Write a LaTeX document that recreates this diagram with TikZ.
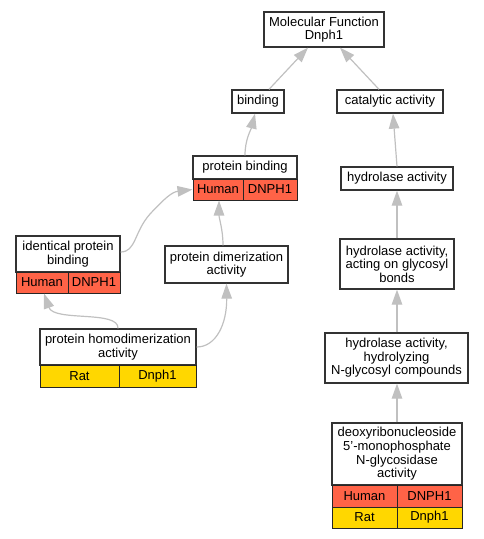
\documentclass[tikz,border=0pt]{standalone}
\usepackage{fontspec}
\setmainfont{Liberation Sans}
\usetikzlibrary{arrows.meta}
\definecolor{hred}{HTML}{FF6347}
\definecolor{ryel}{HTML}{FFD700}
\definecolor{edgec}{HTML}{C0C0C0}
\tikzset{
  box/.style={draw=black!80, line width=1.3pt, fill=white, inner sep=0pt, align=center,
    font=\fontsize{13}{13.6}\selectfont},
  cell/.style={draw=black!85, line width=1pt, inner sep=0pt, align=center,
    font=\fontsize{13}{13.6}\selectfont},
  redcell/.style={cell, fill=hred},
  yelcell/.style={cell, fill=ryel},
  conn/.style={draw=edgec, line width=1.2pt, -{Triangle[length=15pt,width=10.5pt]}}
}
\begin{document}
\begin{tikzpicture}[x=1pt,y=-1pt]
\useasboundingbox (0,0) rectangle (483,539);
% top nodes
\node[box, minimum width=120pt, minimum height=35pt] (mf) at (324,29.5) {Molecular Function\\Dnph1};
\node[box, minimum width=52pt, minimum height=23pt] (bind) at (258,101.5) {binding};
\node[box, minimum width=106pt, minimum height=23pt] (cat) at (390,101.5) {catalytic activity};
% protein binding
\node[box, minimum width=104pt, minimum height=23pt] (pbt) at (245,167.5) {protein binding};
\node[redcell, minimum width=50pt, minimum height=21pt] (pbh) at (218,189.5) {Human};
\node[redcell, minimum width=54pt, minimum height=21pt] (pbg) at (270,189.5) {DNPH1};
% hydrolase activity
\node[box, minimum width=112pt, minimum height=23pt] (hyd) at (397,178.5) {hydrolase activity};
% identical protein binding
\node[box, minimum width=104pt, minimum height=36pt] (ipbt) at (68,254) {identical protein\\binding};
\node[redcell, minimum width=52pt, minimum height=21pt] (ipbh) at (42,282.5) {Human};
\node[redcell, minimum width=52pt, minimum height=21pt] (ipbg) at (94,282.5) {DNPH1};
% protein dimerization activity
\node[box, minimum width=123pt, minimum height=37pt] (pda) at (226.5,264.5) {protein dimerization\\activity};
% hydrolase acting
\node[box, minimum width=114pt, minimum height=50pt] (hact) at (397,264) {hydrolase activity,\\acting on glycosyl\\bonds};
% protein homodimerization
\node[box, minimum width=156pt, minimum height=36pt] (phdt) at (118,347) {protein homodimerization\\activity};
\node[yelcell, minimum width=79pt, minimum height=22pt] (phdr) at (79.5,376) {Rat};
\node[yelcell, minimum width=77pt, minimum height=22pt] (phdg) at (157.5,376) {Dnph1};
% hydrolyzing
\node[box, minimum width=143pt, minimum height=50pt] (hhyd) at (396.5,358) {hydrolase activity,\\hydrolyzing\\N-glycosyl compounds};
% deoxy
\node[box, minimum width=130pt, minimum height=62pt] (dxt) at (397,454) {deoxyribonucleoside\\5'-monophosphate\\N-glycosidase\\activity};
\node[redcell, minimum width=65pt, minimum height=22pt] (dxh) at (364.5,496) {Human};
\node[redcell, minimum width=65pt, minimum height=22pt] (dxg) at (429.5,496) {DNPH1};
\node[yelcell, minimum width=65pt, minimum height=21pt] (dxr) at (364.5,517.5) {Rat};
\node[yelcell, minimum width=65pt, minimum height=21pt] (dxd) at (429.5,517.5) {Dnph1};
% edges
\draw[conn] ([xshift=11pt]bind.north) -- ([xshift=-16pt]mf.south);
\draw[conn] ([xshift=-11pt]cat.north) -- ([xshift=16pt]mf.south);
\draw[conn] (pbt.north) .. controls +(0,-16) and +(-4,16) .. ([xshift=-3pt]bind.south);
\draw[conn] ([xshift=-3.5pt]pda.north) .. controls +(0,-16) and +(0,18) .. ([xshift=1pt]pbh.south);
\draw[conn] ([yshift=2pt]ipbt.east) .. controls (136,252) and (134,232) .. (150,214)
  .. controls (165,198) and (172,192) .. (pbh.west);
\draw[conn] (phdt.north) .. controls (119,310) and (54,322) .. ([xshift=2pt]ipbh.south);
\draw[conn] (phdt.east) .. controls (216,347) and (227,324) .. (pda.south);
\draw[conn] (hyd.north) -- ([xshift=3pt]cat.south);
\draw[conn] (hact.north) -- (hyd.south);
\draw[conn] ([xshift=0.5pt]hhyd.north) -- (hact.south);
\draw[conn] (dxt.north) -- ([xshift=0.5pt]hhyd.south);
\end{tikzpicture}
\end{document}
